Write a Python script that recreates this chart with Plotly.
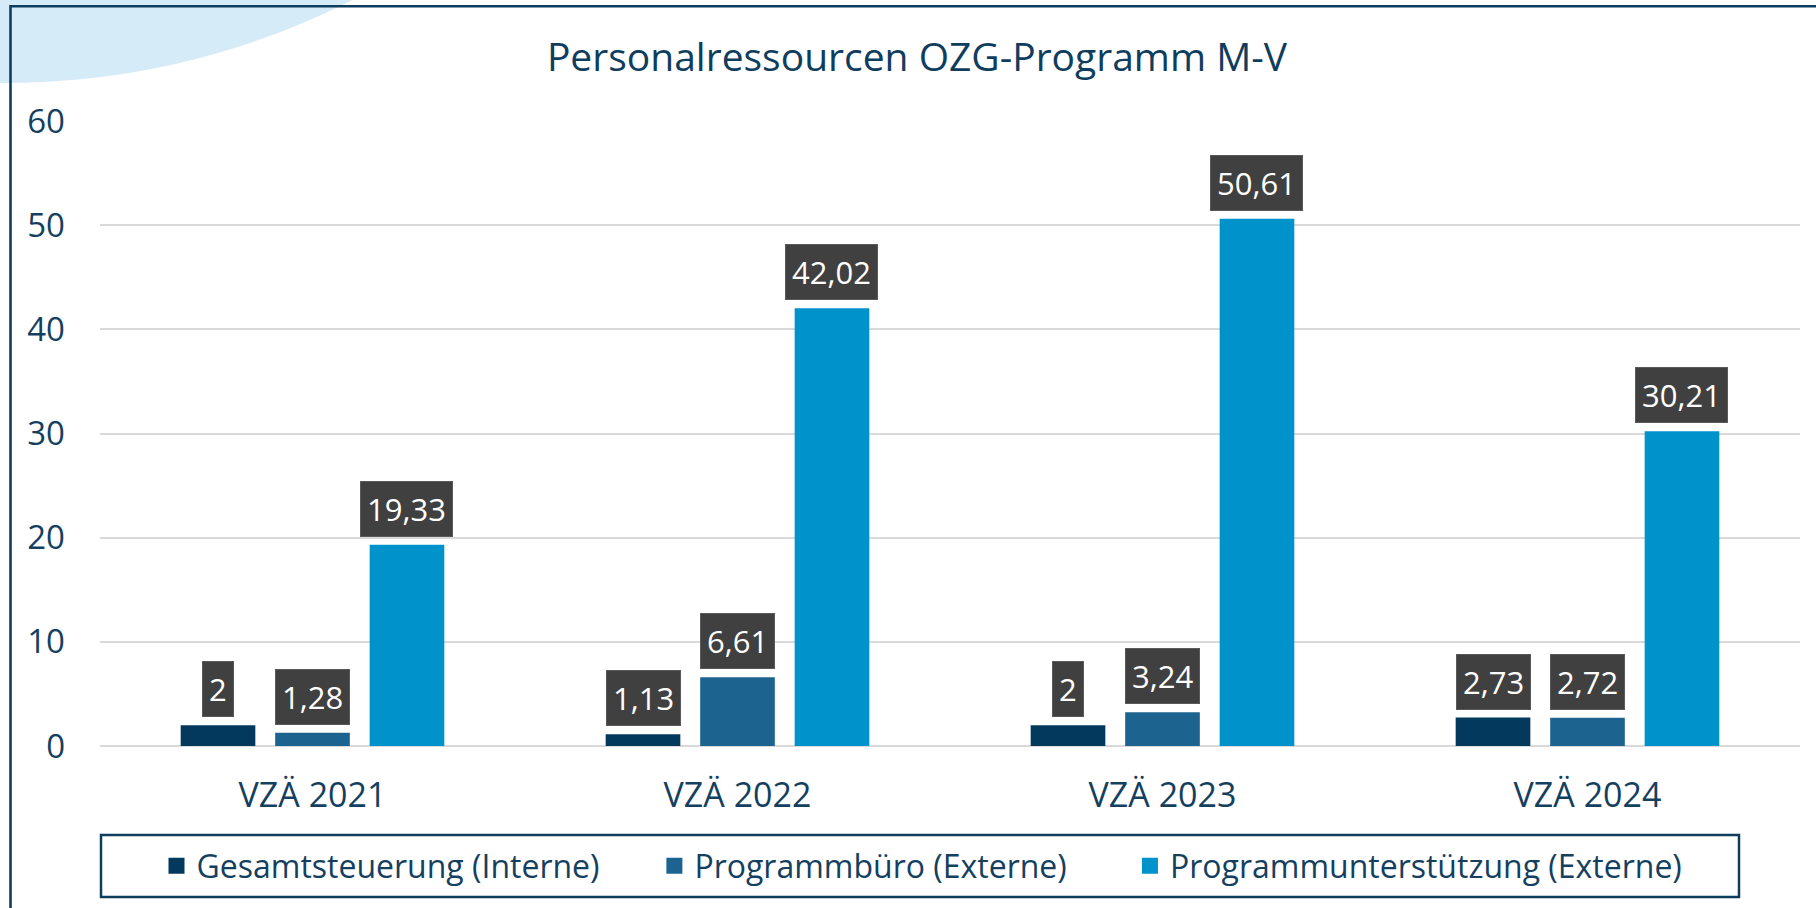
import plotly.graph_objects as go

# ---------------- data ----------------
categories = ["VZÄ 2021", "VZÄ 2022", "VZÄ 2023", "VZÄ 2024"]
series_names = [
    "Gesamtsteuerung (Interne)",
    "Programmbüro (Externe)",
    "Programmunterstützung (Externe)",
]
gesamtsteuerung = [2, 1.13, 2, 2.73]
programmbuero = [1.28, 6.61, 3.24, 2.72]
programmunterstuetzung = [19.33, 42.02, 50.61, 30.21]
y_ticks = [0, 10, 20, 30, 40, 50, 60]
title_text = "Personalressourcen OZG-Programm M-V"

# ---------------- style ----------------
colors = ["#03395C", "#1C6390", "#0093CB"]
NAVY = "#0F3D5E"
TEXT = "#153F5F"
GRID = "#D9D9D9"
FONT = "Open Sans"

W, H = 1816, 908
ML, MR, MT, MB = 100, 16, 121, 162
PW, PH = W - ML - MR, H - MT - MB
BARGAP, GROUPGAP = 0.333, 0.21


def px_x(p):
    return (p - ML) / PW


def px_y(p):
    return (H - MB - p) / PH


def fmt(v):
    return f"{v:g}".replace(".", ",")


series = [gesamtsteuerung, programmbuero, programmunterstuetzung]
fig = go.Figure()

for name, vals, col in zip(series_names, series, colors):
    fig.add_trace(go.Bar(x=categories, y=vals, name=name, marker_color=col,
                         marker_line_width=0, showlegend=False))

# legend entries (square markers)
pads = ["\u00a0" * 6, "\u00a0" * 7, ""]
for name, col, pad in zip(series_names, colors, pads):
    fig.add_trace(go.Scatter(x=[None], y=[None], mode="markers",
                             name=name + pad,
                             marker=dict(symbol="square", size=20, color=col)))

slot = PW / len(categories) * (1 - BARGAP) / len(series)
annotations = []
for i, vals in enumerate(series):
    for c, v in zip(categories, vals):
        annotations.append(dict(
            x=c, y=v, xref="x", yref="y", text=fmt(v), showarrow=False,
            xanchor="center", yanchor="bottom",
            xshift=(i - (len(series) - 1) / 2) * slot, yshift=8,
            bgcolor="#404040", bordercolor="#5A5A5A", borderwidth=1, borderpad=6,
            font=dict(family=FONT, size=31, color="white"),
        ))

shapes = [
    # decorative circle top-left
    dict(type="circle", xref="paper", yref="paper", layer="below",
         x0=px_x(-764), x1=px_x(774), y0=px_y(83), y1=px_y(-1455),
         fillcolor="#D5EBF8", line=dict(width=0)),
    # outer frame
    dict(type="rect", xref="paper", yref="paper", layer="above",
         x0=px_x(10.5), x1=px_x(1840), y0=px_y(940), y1=px_y(6.2),
         fillcolor="rgba(0,0,0,0)", line=dict(color=NAVY, width=2.6)),
    # legend frame
    dict(type="rect", xref="paper", yref="paper", layer="above",
         x0=px_x(101), x1=px_x(1739), y0=px_y(897), y1=px_y(835),
         fillcolor="rgba(0,0,0,0)", line=dict(color=NAVY, width=2.5)),
]

fig.update_layout(
    width=W, height=H,
    margin=dict(l=ML, r=MR, t=MT, b=MB, pad=0),
    paper_bgcolor="white", plot_bgcolor="rgba(0,0,0,0)",
    font=dict(family=FONT, color=TEXT),
    barmode="group", bargap=BARGAP, bargroupgap=GROUPGAP,
    title=dict(text=title_text, x=px_x(917), xanchor="center", xref="paper",
               y=1 - 57 / H, yanchor="middle",
               font=dict(family=FONT, size=39, color=NAVY)),
    xaxis=dict(showgrid=False, showline=False, zeroline=False, ticks="",
               tickfont=dict(family=FONT, size=34, color=TEXT),
               ticklabelstandoff=26, fixedrange=True),
    yaxis=dict(range=[0, 60], tickvals=y_ticks, showgrid=True, gridcolor=GRID,
               gridwidth=2, zeroline=True, zerolinecolor=GRID, zerolinewidth=2,
               showline=False, ticks="",
               tickfont=dict(family=FONT, size=33, color=TEXT),
               ticklabelstandoff=34, fixedrange=True),
    legend=dict(orientation="h", x=px_x(922), xanchor="center",
                y=px_y(866), yanchor="middle",
                font=dict(family=FONT, size=32, color=TEXT),
                bgcolor="rgba(0,0,0,0)", borderwidth=0, traceorder="normal"),
    annotations=annotations,
    shapes=shapes,
)

fig.write_html("out.html", config={"displayModeBar": False},
               post_script="document.body.style.margin='0';")
